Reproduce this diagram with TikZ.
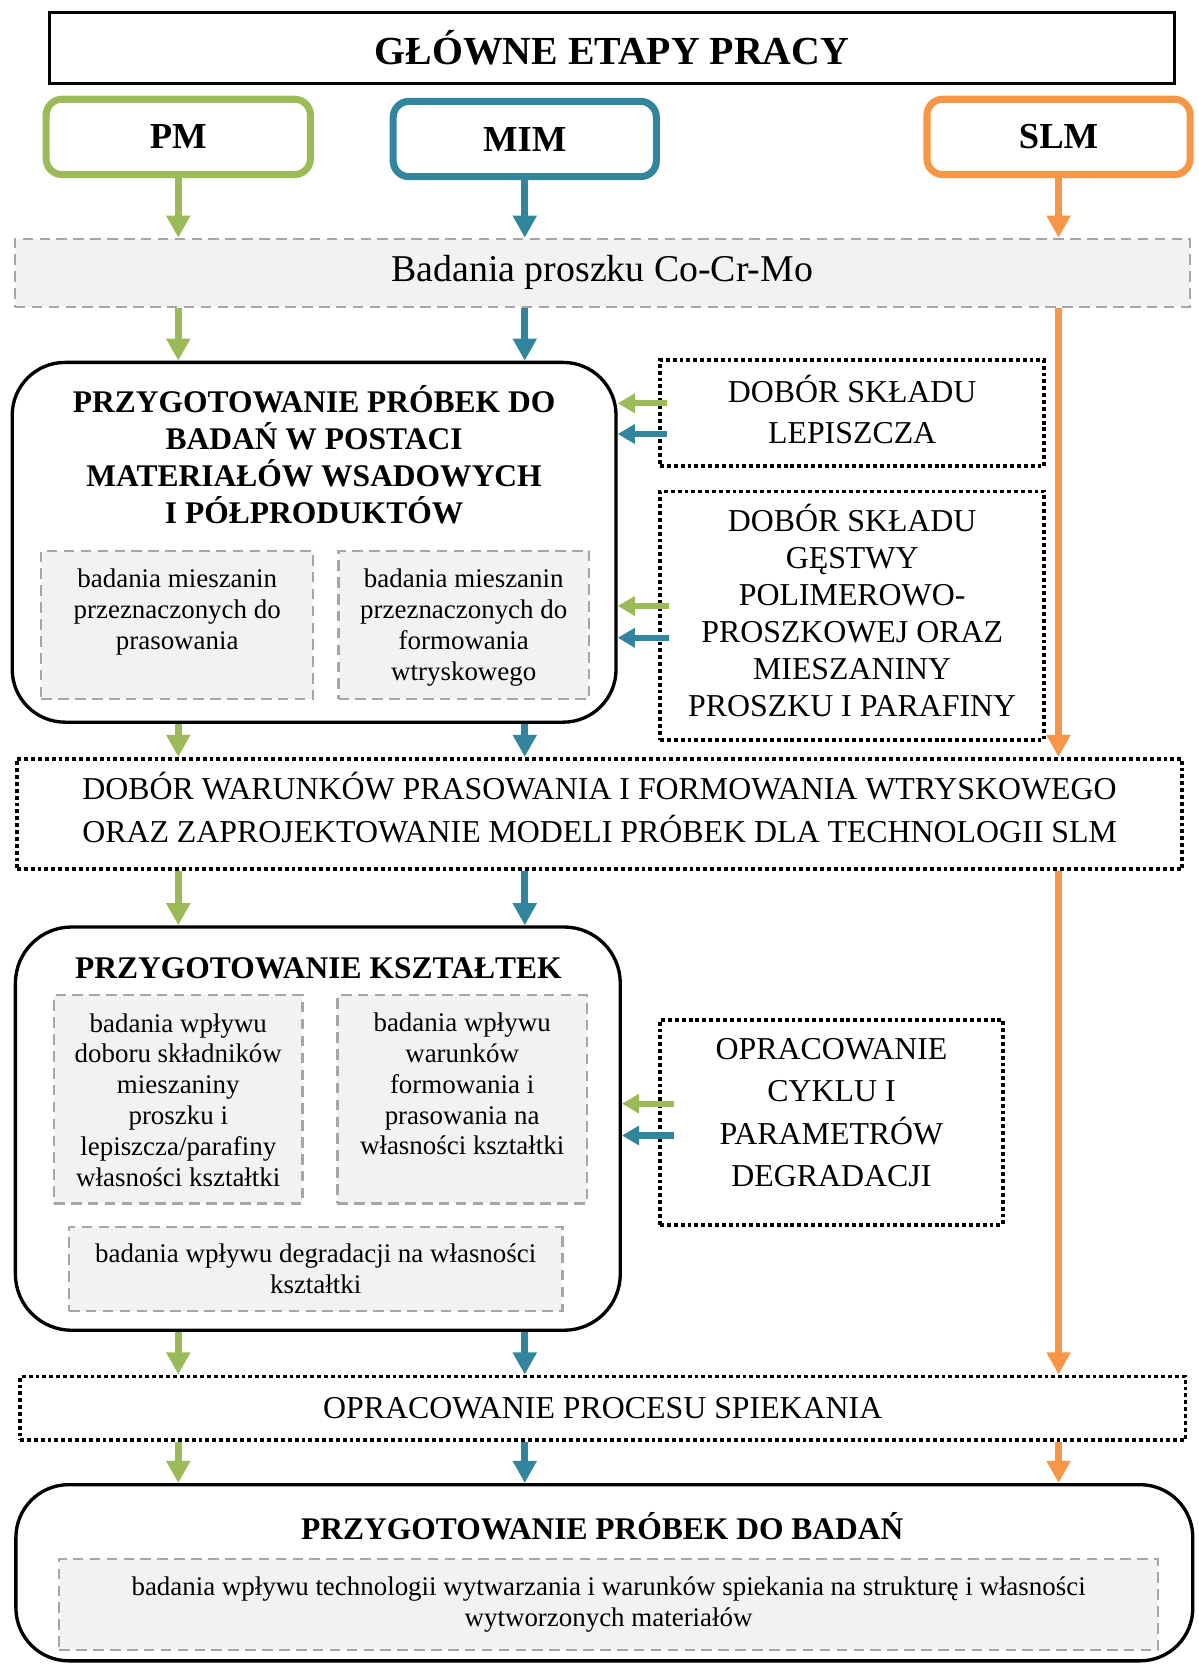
\documentclass[tikz,border=0pt]{standalone}
\usepackage{fontspec}
\setmainfont{Liberation Serif}
\usetikzlibrary{arrows.meta}
\definecolor{pmgreen}{HTML}{9BBB59}
\definecolor{mimblue}{HTML}{31859C}
\definecolor{slmorange}{HTML}{F79646}
\definecolor{boxgray}{HTML}{F2F2F2}
\definecolor{dashgray}{HTML}{A6A6A6}
\begin{document}
\begin{tikzpicture}[x=0.603pt,y=-0.603pt,
  dims/.style 2 args={minimum width=#1*0.603pt,minimum height=#2*0.603pt},
  captext/.style={align=center,inner sep=0pt,font=\fontsize{18.1}{#1}\selectfont},
  boldfont/.style={font=\fontsize{17.9}{21.1}\selectfont\bfseries},
  titlebox/.style={draw=black,line width=1.8pt,font=\fontsize{22.6}{26}\selectfont\bfseries},
  techbox/.style={draw=#1,line width=4pt,rounded corners=9pt,font=\fontsize{20.8}{24}\selectfont\bfseries},
  greybox/.style={draw=dashgray,fill=boxgray,line width=1.2pt,dash pattern=on 6pt off 3.6pt},
  subbox/.style={greybox,inner sep=0pt},
  subtext/.style={align=center,inner sep=0pt,font=\fontsize{15.3}{17.5}\selectfont},
  dotbox/.style={draw=black,line width=2.1pt,dash pattern=on 2.2pt off 1.7pt},
  roundbox/.style={draw=black,line width=1.9pt,rounded corners=30pt},
  flow/.style={-{Triangle[length=12.6pt,width=13pt]},line width=3.8pt},
  sideflow/.style={-{Triangle[length=9.7pt,width=10.6pt]},line width=3.6pt}]
\useasboundingbox (0,0) rectangle (1129,1568);
% header and the three technologies
\node[titlebox,dims={1060}{67}] (title) at (576.5,45) {GŁÓWNE ETAPY PRACY};
\node[techbox=pmgreen,dims={249}{71}] (pm) at (168,129) {PM};
\node[techbox=mimblue,dims={248}{71}] (mim) at (494.5,131) {MIM};
\node[techbox=slmorange,dims={248}{71}] (slm) at (997.5,129) {SLM};
\node[greybox,dims={1107}{64},font=\fontsize{21.5}{25}\selectfont] (bad) at (567.5,257)
  {Badania proszku Co-Cr-Mo};
% preparation of feedstock samples
\node[roundbox,dims={569}{339}] (prep) at (296,511) {};
\node[boldfont,align=center] (preptitle) at (296,428.5)
  {PRZYGOTOWANIE PRÓBEK DO\\BADAŃ W POSTACI\\MATERIAŁÓW WSADOWYCH\\I PÓŁPRODUKTÓW};
\node[subbox,dims={256}{140}] (preps1) at (167,589) {};
\node[subtext,anchor=north] (preps1txt) at ([yshift=-10.9pt]preps1.north)
  {badania mieszanin\\przeznaczonych do\\prasowania};
\node[subbox,dims={236}{140}] (preps2) at (437,589) {};
\node[subtext,anchor=north] (preps2txt) at ([yshift=-10.9pt]preps2.north)
  {badania mieszanin\\przeznaczonych do\\formowania\\wtryskowego};
\node[dotbox,dims={362}{100}] (lep) at (803,389) {};
\node[captext=23.5pt] (leptxt) at ([yshift=1.8pt]lep.center) {DOBÓR SKŁADU\\LEPISZCZA};
\node[dotbox,dims={362}{234}] (gest) at (803,580) {};
\node[captext=21pt] (gesttxt) at ([yshift=3pt]gest.center)
  {DOBÓR SKŁADU\\GĘSTWY\\POLIMEROWO-\\PROSZKOWEJ ORAZ\\MIESZANINY\\PROSZKU I PARAFINY};
\node[dotbox,dims={1098}{104}] (war) at (565,767) {};
\node[captext=24.1pt] (wartxt) at ([yshift=3.6pt]war.center)
  {DOBÓR WARUNKÓW PRASOWANIA I FORMOWANIA WTRYSKOWEGO\\ORAZ ZAPROJEKTOWANIE MODELI PRÓBEK DLA TECHNOLOGII SLM};
% shaped parts
\node[roundbox,dims={570}{380},rounded corners=32pt] (ksz) at (299.5,1063.5) {};
\node[boldfont] (ksztitle) at (300,912) {PRZYGOTOWANIE KSZTAŁTEK};
\node[subbox,dims={234}{196}] (ksz1) at (168,1036) {};
\node[subtext,anchor=north] (ksz1txt) at ([yshift=-10.6pt]ksz1.north)
  {badania wpływu\\doboru składników\\mieszaniny\\proszku i\\lepiszcza/parafiny\\własności kształtki};
\node[subbox,dims={235}{196}] (ksz2) at (435.5,1036) {};
\node[subtext,anchor=north] (ksz2txt) at ([yshift=-10.4pt]ksz2.north)
  {badania wpływu\\warunków\\formowania i\\prasowania na\\własności kształtki};
\node[subbox,subtext,dims={465}{79}] (ksz3) at (297.5,1195.5)
  {badania wpływu degradacji na własności\\kształtki};
\node[dotbox,dims={323}{193}] (deg) at (783.5,1057.5) {};
\node[captext=24.1pt] (degtxt) at ([yshift=5.4pt]deg.center)
  {OPRACOWANIE\\CYKLU I\\PARAMETRÓW\\DEGRADACJI};
% sintering and final samples
\node[dotbox,dims={1098}{60},font=\fontsize{18.1}{22}\selectfont] (spiek) at (568,1327)
  {OPRACOWANIE PROCESU SPIEKANIA};
\node[roundbox,dims={1109}{166}] (fin) at (569.5,1482) {};
\node[boldfont] (fintitle) at (567.5,1438) {PRZYGOTOWANIE PRÓBEK DO BADAŃ};
\node[subbox,subtext,dims={1035}{86}] (fin1) at (573.5,1512)
  {badania wpływu technologii wytwarzania i warunków spiekania na strukturę i własności\\wytworzonych materiałów};
% vertical flow per technology
\foreach \t/\c in {pm/pmgreen,mim/mimblue,slm/slmorange}
  {\draw[flow,\c] (\t) -- (\t |- bad.north);
   \draw[flow,\c] (\t |- spiek.south) -- (\t |- fin.north);}
\foreach \t/\c in {pm/pmgreen,mim/mimblue}
  {\draw[flow,\c] (\t |- bad.south) -- (\t |- prep.north);
   \draw[flow,\c] (\t |- prep.south) -- (\t |- war.north);
   \draw[flow,\c] (\t |- war.south) -- (\t |- ksz.north);
   \draw[flow,\c] (\t |- ksz.south) -- (\t |- spiek.north);}
\draw[flow,slmorange] (slm |- bad.south) -- (slm |- war.north);
\draw[flow,slmorange] (slm |- war.south) -- (slm |- spiek.north);
% side inputs
\draw[sideflow,pmgreen,shorten <=-5pt] (lep.west |- 0,380) -- (prep.east |- 0,380);
\draw[sideflow,mimblue,shorten <=-5pt] (lep.west |- 0,409) -- (prep.east |- 0,409);
\draw[sideflow,pmgreen,shorten <=-6pt] (gest.west |- 0,571) -- (prep.east |- 0,571);
\draw[sideflow,mimblue,shorten <=-6pt] (gest.west |- 0,601) -- (prep.east |- 0,601);
\draw[sideflow,pmgreen,shorten <=-9pt] (deg.west |- 0,1040) -- (ksz.east |- 0,1040);
\draw[sideflow,mimblue,shorten <=-9pt] (deg.west |- 0,1070) -- (ksz.east |- 0,1070);
\end{tikzpicture}
\end{document}
